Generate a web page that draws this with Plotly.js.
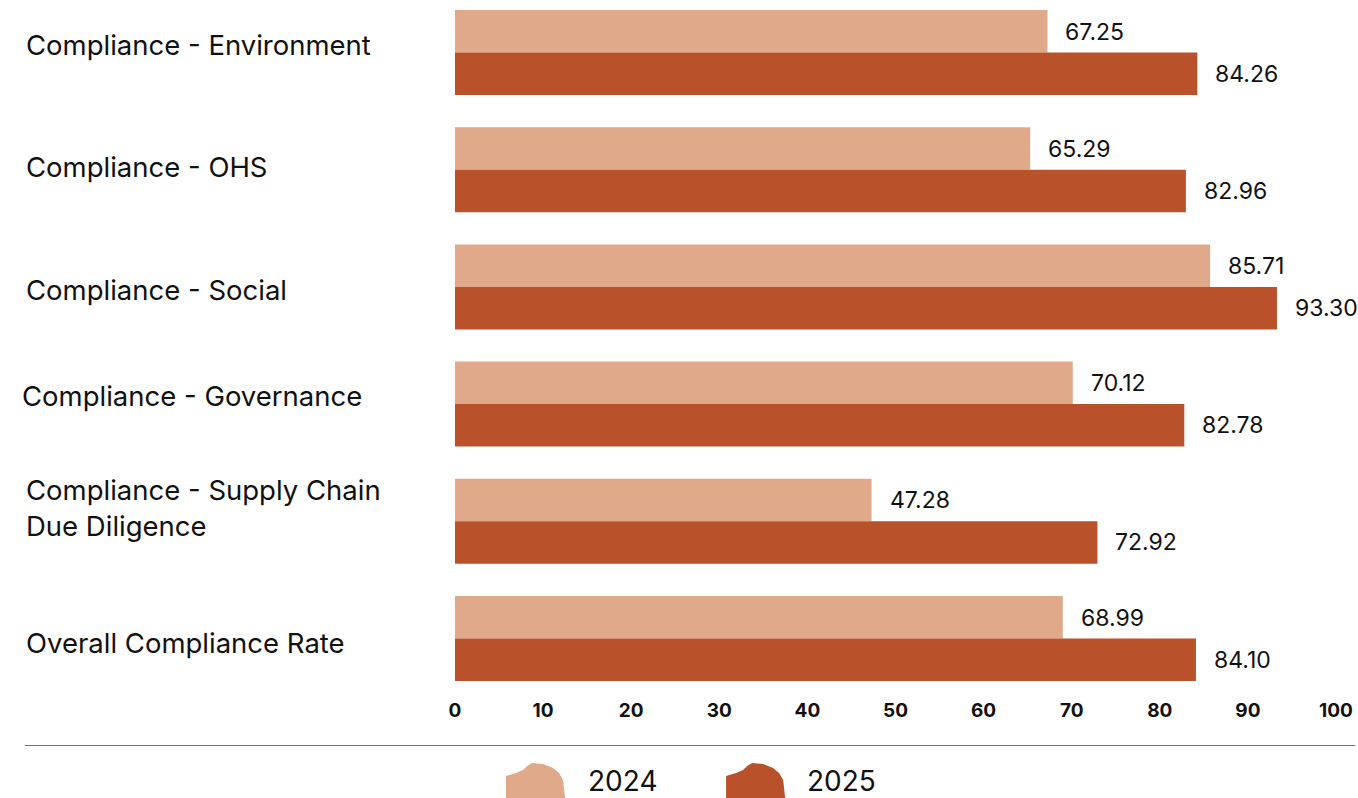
<!DOCTYPE html>
<html>
<head>
<meta charset="utf-8">
<script src="https://cdn.plot.ly/plotly-3.0.1.min.js"></script>
<style>html,body{margin:0;padding:0;background:#fff;}#chart{width:1358px;height:798px;}</style>
</head>
<body>
<div id="chart"></div>
<script>
const categories = [
  "Compliance - Environment",
  "Compliance - OHS",
  "Compliance - Social",
  "Compliance - Governance",
  "Compliance - Supply Chain<br>Due Diligence",
  "Overall Compliance Rate"
];
const seriesNames = ["2024", "2025"];
const values2024 = [67.25, 65.29, 85.71, 70.12, 47.28, 68.99];
const values2025 = [84.26, 82.96, 93.30, 82.78, 72.92, 84.10];
const xTicks = [0, 10, 20, 30, 40, 50, 60, 70, 80, 90, 100];

// label style offsets (pixels) to mimic the reference text placement
const labelYShift = [8, 3, -3, 8, 13, -4];
const labelXShift = [0, 0, 0, -4, 0, 0];

const colors = ["#DFA98A", "#B9512B"];
const FONT = "Inter, 'Noto Sans', sans-serif";
const W = 1358, H = 798;
const mL = 455, mR = 22.4, mT = 0, mB = 103;
const pw = W - mL - mR, ph = H - mT - mB;
const px = (x) => ((x - mL) / pw).toFixed(4);
const py = (y) => ((H - mB - y) / ph).toFixed(4);

const traces = [values2024, values2025].map((vals, i) => ({
  type: "bar",
  orientation: "h",
  name: seriesNames[i],
  x: vals,
  y: categories,
  marker: { color: colors[i] },
  hoverinfo: "x+name"
}));

const annotations = [];
categories.forEach((c, j) => {
  annotations.push({
    xref: "paper", yref: "y", x: px(24), y: c,
    xanchor: "left", yanchor: "middle", align: "left",
    xshift: labelXShift[j], yshift: labelYShift[j],
    text: c, showarrow: false,
    font: { family: FONT, size: 27.5, color: "#111" }
  });
});
[values2024, values2025].forEach((vals, i) => {
  vals.forEach((v, j) => {
    annotations.push({
      xref: "x", yref: "y", x: v, y: categories[j],
      xanchor: "left", yanchor: "middle", xshift: 16,
      yshift: i === 0 ? 21 : -21,
      text: v.toFixed(2), showarrow: false,
      font: { family: FONT, size: 23, color: "#111" }
    });
  });
});
// legend text
const legendX = [586, 805];
seriesNames.forEach((n, i) => {
  annotations.push({
    xref: "paper", yref: "paper", x: px(legendX[i]), y: py(781),
    xanchor: "left", yanchor: "middle", text: n, showarrow: false,
    font: { family: FONT, size: 28, color: "#111" }
  });
});

function blob(x0, color) {
  const pts = [[0,13],[10,10],[17,7],[21,3],[26,0],[37,1],[47,5],[53,10],[57,17],[58,26],[59,35],[0,35]];
  const d = pts.map((p, k) => (k ? "L" : "M") + px(x0 + p[0]) + "," + py(763 + p[1])).join(" ") + " Z";
  return { type: "path", xref: "paper", yref: "paper", path: d, fillcolor: color, line: { width: 0 } };
}

const shapes = [
  { type: "line", xref: "paper", yref: "paper", x0: px(25), x1: px(1355), y0: py(745.5), y1: py(745.5),
    line: { color: "#B9563F", width: 1 } },
  blob(506, colors[0]),
  blob(726, colors[1])
];

const layout = {
  width: W, height: H,
  margin: { l: mL, r: mR, t: mT, b: mB, autoexpand: false },
  paper_bgcolor: "#fff", plot_bgcolor: "#fff",
  barmode: "group", bargap: 0.275, bargroupgap: 0,
  showlegend: false,
  xaxis: {
    range: [0, 100], tickvals: xTicks, ticktext: xTicks.map(String),
    showgrid: false, zeroline: false, showline: false, ticks: "",
    ticklabelstandoff: 2,
    tickfont: { family: FONT, size: 19, color: "#111", weight: "bold" },
    fixedrange: true
  },
  yaxis: {
    type: "category", categoryarray: categories, categoryorder: "array",
    range: [5.482, -0.448], showticklabels: false, showgrid: false,
    zeroline: false, showline: false, ticks: "", fixedrange: true
  },
  annotations: annotations,
  shapes: shapes
};

Plotly.newPlot("chart", traces, layout, { displayModeBar: false, staticPlot: true });
</script>
</body>
</html>
